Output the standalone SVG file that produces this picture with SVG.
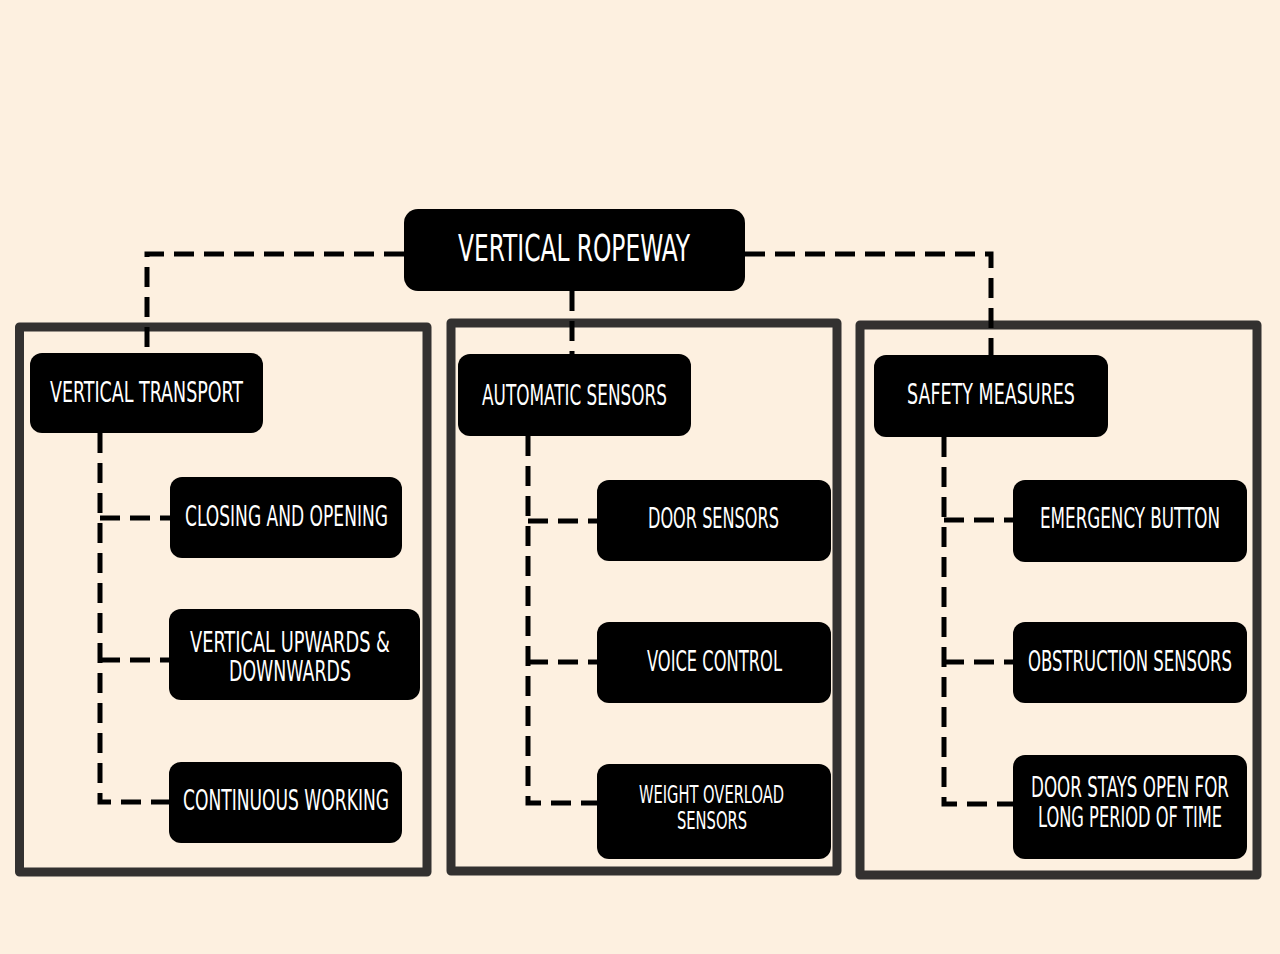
<svg xmlns="http://www.w3.org/2000/svg" width="1280" height="954" viewBox="0 0 1280 954">
<style>
.frame{fill:none;stroke:#333130;stroke-width:9;stroke-linejoin:round}
.box{fill:#000;stroke:none}
.t{fill:#fff;font-family:"DejaVu Sans Condensed","DejaVu Sans","Liberation Sans",sans-serif;font-stretch:condensed;text-anchor:middle;font-size:29px}
.tr{font-size:38px}
.ts{font-size:25px}
.conn{fill:none;stroke:#000;stroke-width:5;stroke-dasharray:20 10}
</style>
<rect width="1280" height="954" fill="#FDF0E0"/>
<g id="frames">
<rect class="frame" x="19.5" y="327" width="407.5" height="545"/>
<rect class="frame" x="451" y="323" width="386" height="548"/>
<rect class="frame" x="860" y="325" width="397" height="550"/>
</g>
<g id="connectors">
<path class="conn" d="M404,254 H147 V352"/>
<path class="conn" d="M745,254 H991 V355"/>
<path class="conn" d="M572,291 V355"/>
<path class="conn" d="M100,433 V802 H170"/>
<path class="conn" d="M100,518 H170"/>
<path class="conn" d="M100,660 H170"/>
<path class="conn" d="M528,436 V803 H597"/>
<path class="conn" d="M528,521 H597"/>
<path class="conn" d="M528,662 H597"/>
<path class="conn" d="M944,437 V804 H1013"/>
<path class="conn" d="M944,520 H1013"/>
<path class="conn" d="M944,662 H1013"/>
</g>
<g id="root">
<rect class="box" x="404" y="209" width="341" height="82" rx="14"/>
<text class="t tr" x="574" y="261" textLength="232" lengthAdjust="spacingAndGlyphs">VERTICAL ROPEWAY</text>
</g>
<g id="vertical-transport">
<rect class="box" x="30" y="353" width="233" height="80" rx="12"/>
<text class="t" x="146.5" y="402" textLength="193" lengthAdjust="spacingAndGlyphs">VERTICAL TRANSPORT</text>
</g>
<g id="closing-opening">
<rect class="box" x="170" y="477" width="232" height="81" rx="12"/>
<text class="t" x="286.5" y="526" textLength="203" lengthAdjust="spacingAndGlyphs">CLOSING AND OPENING</text>
</g>
<g id="vertical-upwards">
<rect class="box" x="169" y="609" width="251" height="91" rx="12"/>
<text class="t" x="290" y="652" textLength="200" lengthAdjust="spacingAndGlyphs">VERTICAL UPWARDS &amp;</text>
<text class="t" x="290" y="681" textLength="122" lengthAdjust="spacingAndGlyphs">DOWNWARDS</text>
</g>
<g id="continuous-working">
<rect class="box" x="169" y="762" width="233" height="81" rx="12"/>
<text class="t" x="286" y="810" textLength="206" lengthAdjust="spacingAndGlyphs">CONTINUOUS WORKING</text>
</g>
<g id="automatic-sensors">
<rect class="box" x="458" y="354" width="233" height="82" rx="12"/>
<text class="t" x="574.5" y="405" textLength="185" lengthAdjust="spacingAndGlyphs">AUTOMATIC SENSORS</text>
</g>
<g id="door-sensors">
<rect class="box" x="597" y="480" width="234" height="81" rx="12"/>
<text class="t" x="713.5" y="528" textLength="131" lengthAdjust="spacingAndGlyphs">DOOR SENSORS</text>
</g>
<g id="voice-control">
<rect class="box" x="597" y="622" width="234" height="81" rx="12"/>
<text class="t" x="714.5" y="671" textLength="135" lengthAdjust="spacingAndGlyphs">VOICE CONTROL</text>
</g>
<g id="weight-overload">
<rect class="box" x="597" y="764" width="234" height="95" rx="12"/>
<text class="t ts" x="711.5" y="803" textLength="145" lengthAdjust="spacingAndGlyphs">WEIGHT OVERLOAD</text>
<text class="t ts" x="712" y="829" textLength="70" lengthAdjust="spacingAndGlyphs">SENSORS</text>
</g>
<g id="safety-measures">
<rect class="box" x="874" y="355" width="234" height="82" rx="12"/>
<text class="t" x="991" y="404" textLength="168" lengthAdjust="spacingAndGlyphs">SAFETY MEASURES</text>
</g>
<g id="emergency-button">
<rect class="box" x="1013" y="480" width="234" height="82" rx="12"/>
<text class="t" x="1130" y="528" textLength="180" lengthAdjust="spacingAndGlyphs">EMERGENCY BUTTON</text>
</g>
<g id="obstruction-sensors">
<rect class="box" x="1013" y="622" width="234" height="81" rx="12"/>
<text class="t" x="1130" y="671" textLength="204" lengthAdjust="spacingAndGlyphs">OBSTRUCTION SENSORS</text>
</g>
<g id="door-stays-open">
<rect class="box" x="1013" y="755" width="234" height="104" rx="12"/>
<text class="t" x="1130" y="797" textLength="198" lengthAdjust="spacingAndGlyphs">DOOR STAYS OPEN FOR</text>
<text class="t" x="1130" y="827" textLength="184" lengthAdjust="spacingAndGlyphs">LONG PERIOD OF TIME</text>
</g>
</svg>
